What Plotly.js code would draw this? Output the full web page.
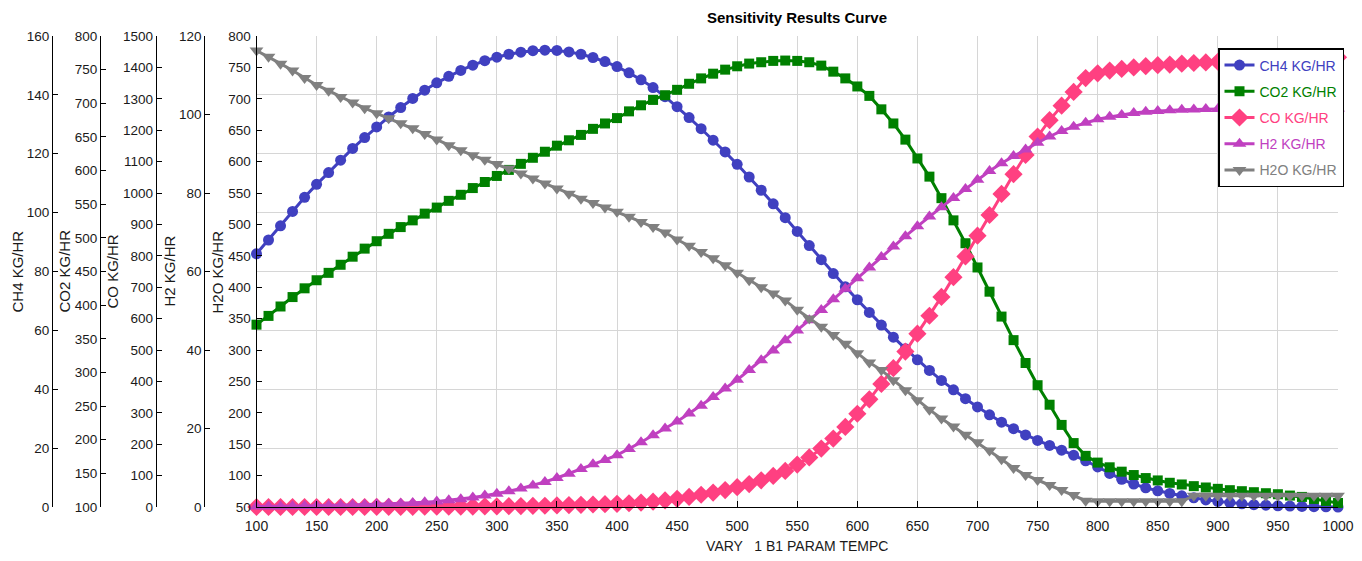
<!DOCTYPE html>
<html>
<head>
<meta charset="utf-8">
<script src="https://cdn.plot.ly/plotly-3.0.1.min.js"></script>
<style>html,body{margin:0;padding:0;background:#fff;}#chart{width:1362px;height:561px;}</style>
</head>
<body>
<div id="chart"></div>
<script>
const tempC = [100,110,120,130,140,150,160,170,180,190,200,210,220,230,240,250,260,270,280,290,300,310,320,330,340,350,360,370,380,390,400,410,420,430,440,450,460,470,480,490,500,510,520,530,540,550,560,570,580,590,600,610,620,630,640,650,660,670,680,690,700,710,720,730,740,750,760,770,780,790,800,810,820,830,840,850,860,870,880,890,900,910,920,930,940,950,960,970,980,990,1000];

const ch4 = [86,90.7,95.5,100.4,105.2,109.6,113.6,117.8,121.8,125.5,129.1,132.5,135.7,138.8,141.6,144.1,146.3,148.3,150.1,151.6,152.8,153.8,154.5,155.0,155.2,155.1,154.6,153.8,152.7,151.3,149.6,147.5,145.1,142.5,139.4,136.0,132.3,128.5,124.6,120.6,116.4,112.1,107.6,103.0,98.3,93.6,88.8,84.0,79.3,74.8,70.4,66.1,61.8,57.7,53.8,50.0,46.4,43.0,39.8,36.8,34.0,31.3,28.8,26.6,24.5,22.6,20.9,19.3,17.6,15.7,13.6,11.4,9.4,7.8,6.5,5.5,4.6,3.8,3.1,2.4,1.9,1.5,1.1,0.8,0.6,0.4,0.3,0.2,0.1,0.05,0];

const co2 = [371,384,398,412,425,437,448,460,472,484,495,506,516,526,536,545,555,564,574,583,592,601,610,619,628,637,645,653,662,670,678,688,697,705,712,720,729,737,744,750,755,759,761,763,763.5,763,761,756,747,737,725,711,691,670,646,618,591,559,526,492,456,420,383,348,314,281,252,222,195,176,166,159,152.5,147.5,143,139.5,136,133.5,131,129,127,125,123.5,122,120.5,119,117,115,112,109,106];

const co = [0,0,0,0,0,0,0,0,0,0,0.5,0.5,0.5,0.5,1,1,1,1.5,1.5,2,2,2.5,3,3.5,4,5,6,7,8,9,10,12,14,17,21,26,32,39,46,54,63,73,85,99,115,135,158,186,218,255,297,343,392,442,495,552,609,669,732,798,864,930,997,1060,1121,1180,1232,1278,1322,1366,1381,1390,1395,1400,1404,1407,1409,1412,1414,1416,1418,1420,1422,1424,1426,1427,1428,1429,1430,1431,1432];

const h2 = [0.1,0.1,0.15,0.2,0.25,0.3,0.35,0.4,0.5,0.6,0.7,0.8,0.9,1.0,1.2,1.4,1.7,2.0,2.4,2.9,3.4,4.0,4.7,5.5,6.4,7.4,8.5,9.7,10.9,12.0,13.2,14.8,16.5,18.3,20.0,21.8,23.8,25.8,28.0,30.2,32.4,34.9,37.4,39.9,42.5,45.0,47.6,50.2,52.9,55.6,58.3,61.0,63.7,66.4,69.0,71.5,74.0,76.4,78.7,81.0,83.4,85.6,87.6,89.4,91.1,92.8,94.4,95.8,96.9,97.9,98.8,99.4,99.9,100.4,100.7,100.9,101.1,101.2,101.3,101.4,101.4,101.4,101.5,101.5,101.5,101.5,101.5,101.5,101.5,101.5,101.5];

const h2o = [777,767,756,745,733,722,713,703,694,685,677,669,661,653,644,635,626,618,610,603,596,589,581,573,565,557,549,541,534,527,520,512,504,496,487,476,466,456,446,435,423,411,400,390,379,364,350,337,324,310,295,280,268,252,236,220,205,191,178,165,153,140,126,112,101,93,85,77,69,60,59,59,59,59,59,59,59,59,68,68,68,68,68,68,68,68,68,68,68,68,68];

const seriesNames = ['CH4 KG/HR','CO2 KG/HR','CO KG/HR','H2 KG/HR','H2O KG/HR'];
const seriesColors = ['#4040C0','#008000','#FF4081','#C040C0','#808080'];
const seriesSymbols = ['circle','square','diamond','triangle-up','triangle-down'];
const seriesSizes = [11,10,14,12,12];
const seriesData = [ch4, co2, co, h2, h2o];
const axisIds = ['y','y2','y3','y4','y5'];

const FONT = 'Liberation Sans, Arial, sans-serif';
const W = 1362;

const traces = seriesData.map((ys, i) => ({
  type: 'scatter', mode: 'lines+markers',
  x: tempC, y: ys, yaxis: axisIds[i],
  name: '<span style="color:' + seriesColors[i] + '">' + seriesNames[i] + '</span>',
  legendgroup: 'g' + i,
  line: {color: seriesColors[i], width: 3},
  marker: {color: seriesColors[i], symbol: seriesSymbols[i], size: seriesSizes[i]},
  cliponaxis: false
}));

function yAx(range, dtick, pos, extra) {
  return Object.assign({
    range: range, dtick: dtick, tick0: range[0],
    anchor: 'free', position: pos, side: 'left',
    ticks: 'inside', ticklen: 5, tickcolor: '#000', tickwidth: 1,
    showline: true, linecolor: '#000', linewidth: 1,
    showgrid: false, zeroline: false,
    tickfont: {family: FONT, size: 13.5, color: '#1a1a1a'},
    ticklabelstandoff: 0
  }, extra || {});
}

const layout = {
  width: 1362, height: 561,
  margin: {l: 0, r: 0, t: 36, b: 54, pad: 0},
  paper_bgcolor: '#fff', plot_bgcolor: '#fff',
  showlegend: true,
  title: {
    text: '<b>Sensitivity Results Curve</b>',
    font: {family: FONT, size: 15, color: '#000'},
    x: 797 / W, xref: 'paper', xanchor: 'center',
    y: 1 - 18 / 561, yref: 'container', yanchor: 'middle'
  },
  xaxis: {
    domain: [256.5 / W, 1338 / W],
    range: [100, 1000], dtick: 50, tick0: 100,
    anchor: 'y',
    ticks: 'inside', ticklen: 6, tickcolor: '#000',
    showline: true, linecolor: '#000', linewidth: 1,
    showgrid: true, gridcolor: '#d6d6d6', gridwidth: 1,
    zeroline: false,
    tickfont: {family: FONT, size: 14, color: '#1a1a1a'},
    ticklabelstandoff: 6,
    title: {text: 'VARY   1 B1 PARAM TEMPC', font: {family: FONT, size: 14, color: '#1a1a1a'}, standoff: 8}
  },
  yaxis: yAx([0, 160], 20, 52 / W, {showgrid: true, gridcolor: '#d6d6d6', gridwidth: 1}),
  yaxis2: yAx([100, 800], 50, 100 / W, {overlaying: 'y'}),
  yaxis3: yAx([0, 1500], 100, 155.7 / W, {overlaying: 'y'}),
  yaxis4: yAx([0, 120], 20, 204.3 / W, {overlaying: 'y'}),
  yaxis5: yAx([50, 800], 50, 0, {overlaying: 'y', anchor: 'x', ticklabelstandoff: 2}),
  legend: {
    x: 1218 / W, xanchor: 'left', y: (507 - 48) / 471, yanchor: 'top',
    bgcolor: '#fff', bordercolor: '#000', borderwidth: 1.5,
    font: {family: FONT, size: 14},
    tracegroupgap: 5, itemwidth: 30
  },
  annotations: [
    {text: 'CH4 KG/HR', x: 17 / W, y: 0.5},
    {text: 'CO2 KG/HR', x: 64 / W, y: 0.5},
    {text: 'CO KG/HR', x: 112 / W, y: 0.5},
    {text: 'H2 KG/HR', x: 169 / W, y: 0.5},
    {text: 'H2O KG/HR', x: 217 / W, y: 0.5}
  ].map(a => Object.assign(a, {
    xref: 'paper', yref: 'paper', textangle: -90, showarrow: false,
    xanchor: 'center', yanchor: 'middle',
    font: {family: FONT, size: 15, color: '#1a1a1a'}
  }))
};

Plotly.newPlot('chart', traces, layout, {displayModeBar: false, staticPlot: true});
</script>
</body>
</html>
